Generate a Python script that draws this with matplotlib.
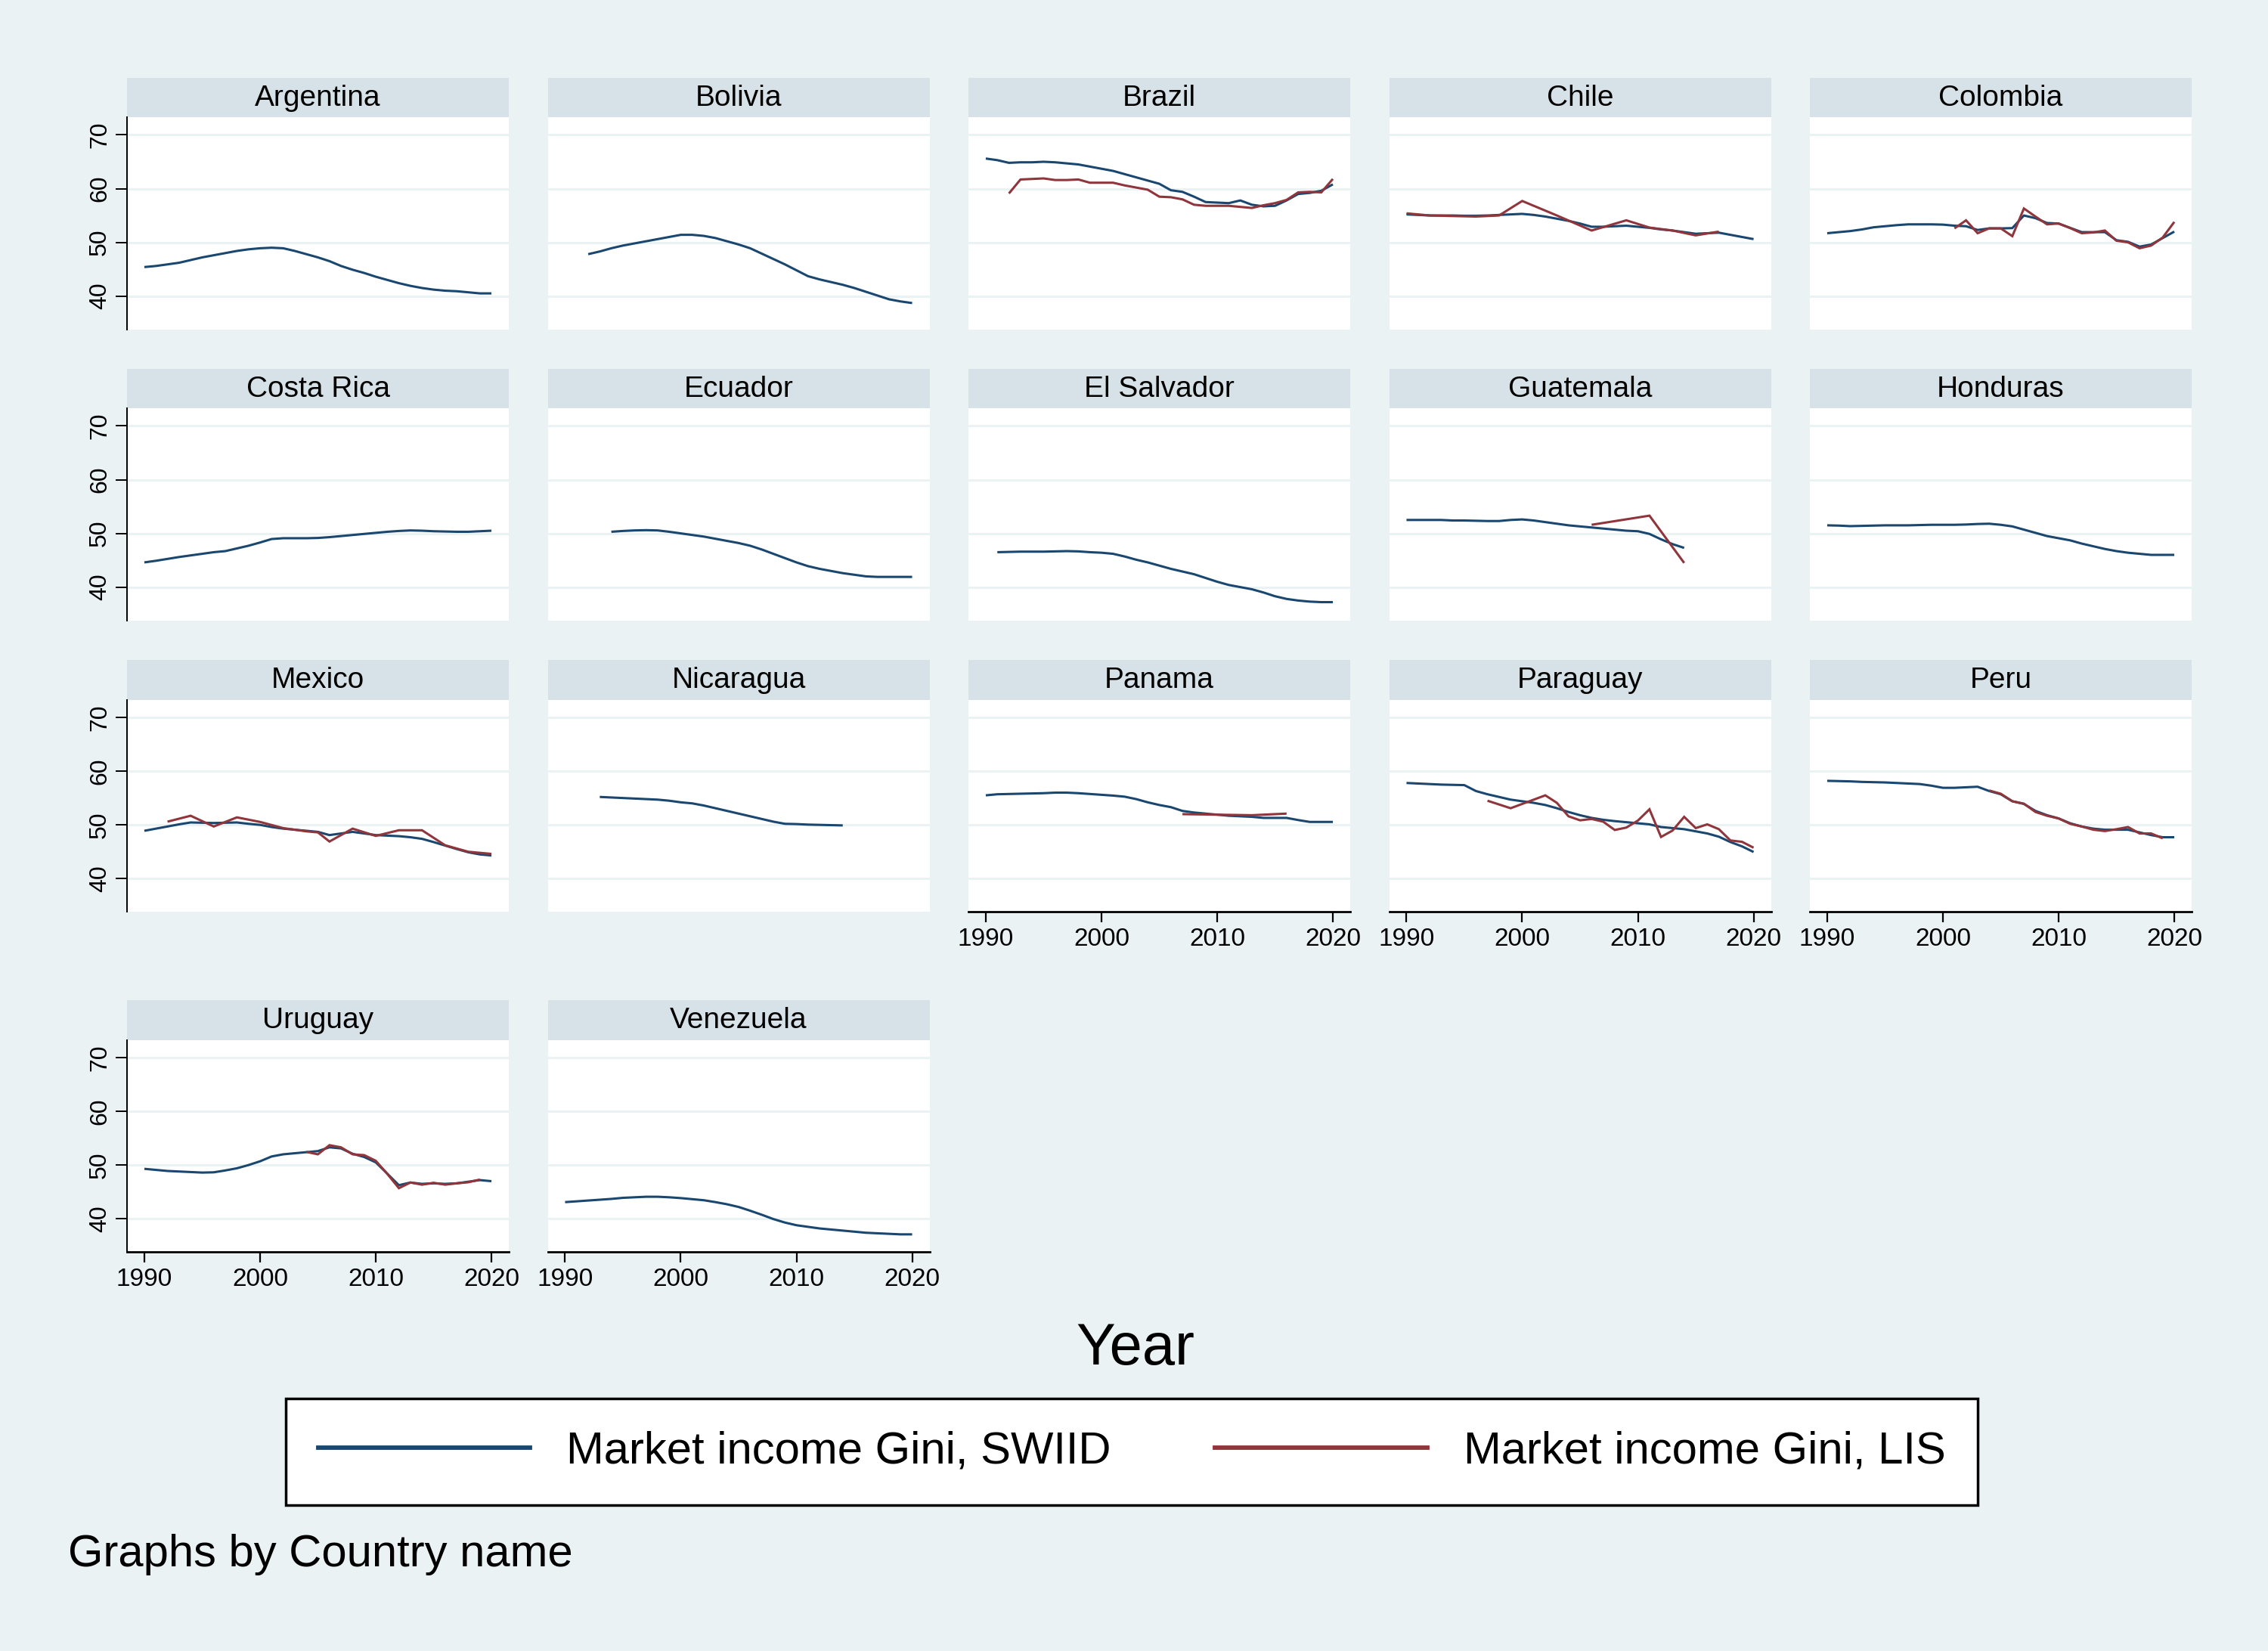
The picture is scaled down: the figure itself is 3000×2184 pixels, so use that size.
import matplotlib
matplotlib.use("Agg")
import matplotlib.pyplot as plt
from matplotlib.lines import Line2D

plt.rcParams['font.family'] = ['Liberation Sans', 'DejaVu Sans']

# ---------------- data ----------------
COUNTRIES = ["Argentina", "Bolivia", "Brazil", "Chile", "Colombia",
             "Costa Rica", "Ecuador", "El Salvador", "Guatemala", "Honduras",
             "Mexico", "Nicaragua", "Panama", "Paraguay", "Peru",
             "Uruguay", "Venezuela"]

# first year of each SWIID series (series are annual)
SWIID_START = [1990, 1992, 1990, 1990, 1990,
               1990, 1994, 1991, 1990, 1990,
               1990, 1993, 1990, 1990, 1990,
               1990, 1990]

swiid_argentina = [45.4, 45.6, 45.9, 46.2, 46.7, 47.2, 47.6, 48.0, 48.4, 48.7, 48.9, 49.0, 48.9, 48.4, 47.8,
                   47.2, 46.5, 45.6, 44.9, 44.3, 43.6, 43.0, 42.4, 41.9, 41.5, 41.2, 41.0, 40.9, 40.7, 40.5, 40.5]
swiid_bolivia = [47.8, 48.3, 48.9, 49.4, 49.8, 50.2, 50.6, 51.0, 51.4, 51.4, 51.2, 50.8, 50.2, 49.6, 48.9,
                 47.9, 46.9, 45.9, 44.8, 43.7, 43.1, 42.6, 42.1, 41.5, 40.8, 40.1, 39.4, 39.0, 38.7]
swiid_brazil = [65.6, 65.3, 64.8, 64.9, 64.9, 65.0, 64.9, 64.7, 64.5, 64.1, 63.7, 63.3, 62.7, 62.1, 61.5,
                60.9, 59.7, 59.4, 58.5, 57.5, 57.4, 57.3, 57.8, 57.0, 56.7, 56.8, 57.8, 59.0, 59.2, 59.6, 60.8]
swiid_chile = [55.2, 55.1, 55.0, 55.0, 55.0, 54.95, 54.95, 55.0, 55.1, 55.2, 55.3, 55.1, 54.8, 54.4, 54.0,
               53.5, 52.9, 52.9, 53.0, 53.1, 52.9, 52.7, 52.4, 52.2, 51.9, 51.6, 51.7, 51.8, 51.4, 51.0, 50.6]
swiid_colombia = [51.7, 51.9, 52.1, 52.4, 52.8, 53.0, 53.2, 53.35, 53.35, 53.35, 53.3, 53.1, 53.0, 52.3, 52.6,
                  52.6, 52.65, 55.0, 54.5, 53.6, 53.5, 52.7, 51.9, 51.9, 51.9, 50.4, 50.1, 49.2, 49.6, 50.8, 52.0]
swiid_costa_rica = [44.6, 44.9, 45.25, 45.6, 45.9, 46.2, 46.5, 46.7, 47.2, 47.7, 48.3, 48.95, 49.1, 49.1, 49.1,
                    49.15, 49.3, 49.5, 49.7, 49.9, 50.1, 50.3, 50.45, 50.55, 50.5, 50.4, 50.35, 50.3, 50.3, 50.4, 50.5]
swiid_ecuador = [50.3, 50.45, 50.55, 50.6, 50.55, 50.3, 50.0, 49.7, 49.4, 49.0, 48.6, 48.2, 47.7, 47.0,
                 46.2, 45.4, 44.6, 43.9, 43.4, 43.0, 42.6, 42.3, 42.0, 41.9, 41.9, 41.9, 41.9]
swiid_el_salvador = [46.5, 46.55, 46.6, 46.6, 46.6, 46.65, 46.7, 46.65, 46.5, 46.4, 46.2, 45.7, 45.1, 44.6, 44.0,
                     43.4, 42.9, 42.4, 41.7, 41.0, 40.4, 40.0, 39.6, 39.0, 38.3, 37.8, 37.5, 37.3, 37.2, 37.2]
swiid_guatemala = [52.5, 52.5, 52.5, 52.5, 52.4, 52.4, 52.35, 52.3, 52.3, 52.5, 52.6, 52.4, 52.1, 51.8, 51.5,
                   51.3, 51.1, 50.9, 50.7, 50.5, 50.4, 49.9, 48.9, 48.0, 47.3]
swiid_honduras = [51.5, 51.45, 51.35, 51.4, 51.45, 51.5, 51.5, 51.5, 51.55, 51.6, 51.6, 51.6, 51.65, 51.75, 51.8,
                  51.6, 51.3, 50.7, 50.1, 49.5, 49.1, 48.7, 48.1, 47.6, 47.1, 46.7, 46.4, 46.2, 46.0, 46.0, 46.0]
swiid_mexico = [48.9, 49.3, 49.7, 50.1, 50.45, 50.4, 50.35, 50.4, 50.45, 50.2, 50.0, 49.6, 49.3, 49.1, 48.9,
                48.7, 48.1, 48.4, 48.7, 48.4, 48.1, 48.0, 47.9, 47.7, 47.4, 46.8, 46.15, 45.5, 44.9, 44.5, 44.3]
swiid_nicaragua = [55.2, 55.1, 55.0, 54.9, 54.8, 54.7, 54.5, 54.2, 54.0, 53.6, 53.1, 52.6, 52.1, 51.6, 51.1,
                   50.6, 50.2, 50.15, 50.05, 50.0, 49.95, 49.9]
swiid_panama = [55.5, 55.7, 55.75, 55.8, 55.85, 55.9, 56.0, 56.0, 55.9, 55.75, 55.6, 55.45, 55.25, 54.8, 54.2,
                53.7, 53.3, 52.6, 52.3, 52.1, 51.9, 51.7, 51.6, 51.5, 51.3, 51.3, 51.3, 50.9, 50.55, 50.55, 50.55]
swiid_paraguay = [57.8, 57.7, 57.6, 57.5, 57.45, 57.4, 56.3, 55.7, 55.2, 54.7, 54.4, 54.1, 53.7, 53.1, 52.4,
                  51.8, 51.3, 50.95, 50.7, 50.5, 50.3, 50.1, 49.6, 49.4, 49.2, 48.8, 48.4, 47.8, 46.8, 46.0, 44.95]
swiid_peru = [58.2, 58.15, 58.1, 58.0, 57.95, 57.9, 57.8, 57.7, 57.6, 57.3, 56.9, 56.9, 57.0, 57.1, 56.3,
              55.7, 54.4, 53.9, 52.6, 51.8, 51.2, 50.3, 49.7, 49.3, 49.1, 49.1, 49.1, 48.6, 48.1, 47.7, 47.7]
swiid_uruguay = [49.3, 49.1, 48.9, 48.8, 48.7, 48.6, 48.65, 49.0, 49.4, 50.0, 50.7, 51.6, 52.0, 52.2, 52.4,
                 52.6, 53.3, 53.1, 52.1, 51.5, 50.5, 48.4, 46.25, 46.75, 46.5, 46.6, 46.5, 46.6, 46.9, 47.2, 47.0]
swiid_venezuela = [43.1, 43.25, 43.4, 43.55, 43.7, 43.9, 44.0, 44.1, 44.1, 44.0, 43.85, 43.65, 43.45, 43.1, 42.7,
                   42.2, 41.5, 40.75, 39.95, 39.3, 38.8, 38.5, 38.2, 38.0, 37.8, 37.6, 37.4, 37.3, 37.2, 37.1, 37.1]

# LIS series (irregular years)
lis_brazil_years = [1992, 1993, 1994, 1995, 1996, 1997, 1998, 1999, 2000, 2001, 2002, 2003, 2004, 2005, 2006,
                    2007, 2008, 2009, 2010, 2011, 2012, 2013, 2014, 2015, 2016, 2017, 2018, 2019, 2020]
lis_brazil = [59.1, 61.7, 61.8, 61.9, 61.6, 61.6, 61.7, 61.1, 61.1, 61.1, 60.6, 60.2, 59.8, 58.5, 58.4,
              58.0, 57.0, 56.8, 56.8, 56.8, 56.6, 56.4, 56.9, 57.3, 57.9, 59.3, 59.4, 59.3, 61.8]
lis_chile_years = [1990, 1992, 1994, 1996, 1998, 2000, 2003, 2006, 2009, 2011, 2013, 2015, 2017]
lis_chile = [55.4, 55.0, 54.9, 54.8, 55.0, 57.7, 55.0, 52.2, 54.1, 52.75, 52.2, 51.3, 52.0]
lis_colombia_years = [2001, 2002, 2003, 2004, 2005, 2006, 2007, 2008, 2009, 2010,
                      2011, 2012, 2013, 2014, 2015, 2016, 2017, 2018, 2019, 2020]
lis_colombia = [52.6, 54.1, 51.7, 52.6, 52.6, 51.15, 56.3, 54.8, 53.35, 53.5,
                52.65, 51.7, 51.85, 52.2, 50.3, 50.0, 48.9, 49.4, 50.9, 53.8]
lis_guatemala_years = [2006, 2011, 2014]
lis_guatemala = [51.6, 53.3, 44.5]
lis_mexico_years = [1992, 1994, 1996, 1998, 2000, 2002, 2004, 2005, 2006, 2008, 2010, 2012, 2014, 2016, 2018, 2020]
lis_mexico = [50.6, 51.7, 49.7, 51.4, 50.55, 49.4, 48.8, 48.6, 46.9, 49.3, 47.95, 49.0, 49.0, 46.2, 45.0, 44.6]
lis_panama_years = [2007, 2010, 2013, 2016]
lis_panama = [52.0, 51.9, 51.8, 52.1]
lis_paraguay_years = [1997, 1999, 2002, 2003, 2004, 2005, 2006, 2007, 2008, 2009, 2010, 2011,
                      2012, 2013, 2014, 2015, 2016, 2017, 2018, 2019, 2020]
lis_paraguay = [54.5, 53.1, 55.5, 54.1, 51.6, 50.85, 51.1, 50.6, 49.05, 49.5, 50.8, 52.9,
                47.75, 48.95, 51.5, 49.4, 50.1, 49.2, 47.1, 46.85, 45.75]
lis_peru_years = [2004, 2005, 2006, 2007, 2008, 2009, 2010, 2011, 2012, 2013, 2014, 2015, 2016, 2017, 2018, 2019]
lis_peru = [56.4, 55.8, 54.4, 53.95, 52.4, 51.7, 51.2, 50.2, 49.7, 49.1, 48.85, 49.2, 49.6, 48.4, 48.4, 47.5]
lis_uruguay_years = [2004, 2005, 2006, 2007, 2008, 2009, 2010, 2011, 2012, 2013, 2014, 2015, 2016, 2017, 2018, 2019]
lis_uruguay = [52.45, 52.0, 53.7, 53.3, 52.0, 51.85, 50.8, 48.35, 45.7, 46.75, 46.35, 46.7, 46.35, 46.6, 46.8, 47.3]

Y_TICKS = [40, 50, 60, 70]
X_TICKS = [1990, 2000, 2010, 2020]
LEGEND_LABELS = ["Market income Gini, SWIID", "Market income Gini, LIS"]
X_TITLE = "Year"
NOTE = "Graphs by Country name"

SWIID = [swiid_argentina, swiid_bolivia, swiid_brazil, swiid_chile, swiid_colombia,
         swiid_costa_rica, swiid_ecuador, swiid_el_salvador, swiid_guatemala, swiid_honduras,
         swiid_mexico, swiid_nicaragua, swiid_panama, swiid_paraguay, swiid_peru,
         swiid_uruguay, swiid_venezuela]
LIS = {
    "Brazil": (lis_brazil_years, lis_brazil),
    "Chile": (lis_chile_years, lis_chile),
    "Colombia": (lis_colombia_years, lis_colombia),
    "Guatemala": (lis_guatemala_years, lis_guatemala),
    "Mexico": (lis_mexico_years, lis_mexico),
    "Panama": (lis_panama_years, lis_panama),
    "Paraguay": (lis_paraguay_years, lis_paraguay),
    "Peru": (lis_peru_years, lis_peru),
    "Uruguay": (lis_uruguay_years, lis_uruguay),
}

# ---------------- style ----------------
BG = "#EAF2F3"
STRIP = "#D6E2E7"
GRID = "#EAF2F3"
NAVY = "#1A476F"
MAROON = "#90353B"

W, H = 3000, 2184
ROW_TOP = [102.7, 487.7, 873.3, 1323.3]
COL_LEFT = [168, 724.5, 1281, 1837.5, 2394]
PW = 505
STRIP_H = 52.3
PLOT_H = 280.7


def rect(x0, y0, w, h):
    return [x0 / W, 1 - (y0 + h) / H, w / W, h / H]


fig = plt.figure(figsize=(W / 100, H / 100), dpi=100, facecolor=BG)

n = len(COUNTRIES)
for i, name in enumerate(COUNTRIES):
    r, c = divmod(i, 5)
    top = ROW_TOP[r]
    left = COL_LEFT[c]

    sax = fig.add_axes(rect(left, top, PW, STRIP_H))
    sax.set_facecolor(STRIP)
    sax.set_xticks([])
    sax.set_yticks([])
    for s in sax.spines.values():
        s.set_visible(False)
    sax.text(0.5, 0.48, name, ha="center", va="center", fontsize=28, transform=sax.transAxes)

    ax = fig.add_axes(rect(left, top + STRIP_H, PW, PLOT_H))
    ax.set_facecolor("white")
    ax.set_xlim(1988.5, 2021.5)
    ax.set_ylim(33.8, 73.3)
    ax.set_yticks(Y_TICKS)
    ax.set_xticks(X_TICKS)
    ax.yaxis.grid(True, color=GRID, lw=2.2)
    ax.xaxis.grid(False)
    ax.set_axisbelow(True)
    for s in ["top", "right"]:
        ax.spines[s].set_visible(False)

    has_y = (c == 0)
    has_x = (i + 5 >= n)

    if has_y:
        ax.spines["left"].set_color("black")
        ax.spines["left"].set_linewidth(1.4)
        ax.tick_params(axis="y", length=11, width=1.4, labelsize=23, pad=4, color="black")
        for lab in ax.get_yticklabels():
            lab.set_rotation(90)
            lab.set_va("center")
    else:
        ax.spines["left"].set_visible(False)
        ax.tick_params(axis="y", left=False, labelleft=False)

    if has_x:
        ax.spines["bottom"].set_color("black")
        ax.spines["bottom"].set_linewidth(2.0)
        ax.tick_params(axis="x", length=10, width=1.6, labelsize=24, pad=5, color="black")
    else:
        ax.spines["bottom"].set_visible(False)
        ax.tick_params(axis="x", bottom=False, labelbottom=False)

    vals = SWIID[i]
    yrs = [SWIID_START[i] + k for k in range(len(vals))]
    ax.plot(yrs, vals, color=NAVY, lw=2.2, solid_joinstyle="round", solid_capstyle="butt", zorder=3)
    if name in LIS:
        ly, lv = LIS[name]
        ax.plot(ly, lv, color=MAROON, lw=2.2, solid_joinstyle="miter", solid_capstyle="butt", zorder=4)

# x title
fig.text(1502 / W, 1 - 1784 / H, X_TITLE, ha="center", va="center", fontsize=56)

# legend
handles = [Line2D([], [], color=NAVY, lw=4.2), Line2D([], [], color=MAROON, lw=4.2)]
leg = fig.legend(handles, LEGEND_LABELS, loc="center", bbox_to_anchor=(1497 / W, 1 - 1920 / H),
                 ncol=2, fontsize=43, frameon=True, fancybox=False, framealpha=1,
                 edgecolor="black", facecolor="white", handlelength=4.7, handletextpad=0.8,
                 columnspacing=2.3, borderpad=0.72)
leg.get_frame().set_linewidth(2.5)

# note
fig.text(90 / W, 1 - 2056 / H, NOTE, ha="left", va="center", fontsize=43)

fig.savefig("out.png", dpi=100, facecolor=BG)
